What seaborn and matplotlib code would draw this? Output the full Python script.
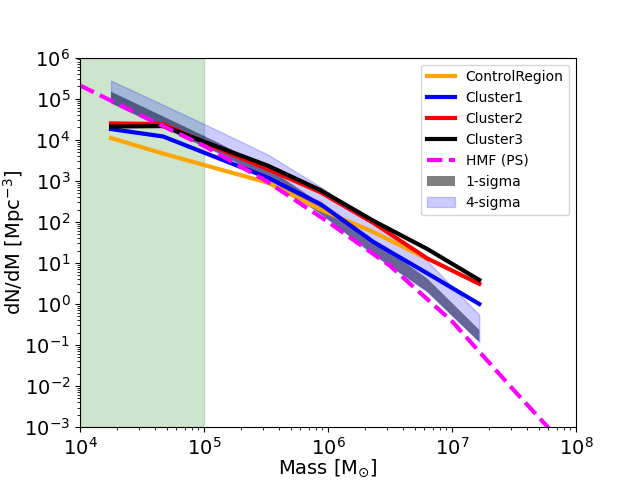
import numpy as np
import pandas as pd
import matplotlib
matplotlib.use("Agg")
import matplotlib.pyplot as plt
import seaborn as sns

# ---- data ----
mass = [1.78e4, 4.68e4, 1.26e5, 3.31e5, 8.71e5, 2.34e6, 6.31e6, 1.66e7]
control_region = [1.10e4, 4.6e3, 2.0e3, 890, 200, 56, 12.6]
cluster1 = [1.82e4, 1.20e4, 3.7e3, 1.17e3, 270, 32, 5.6, 1.0]
cluster2 = [2.5e4, 2.4e4, 6.3e3, 1.9e3, 525, 93, 12.9, 3.1]
cluster3 = [2.1e4, 2.15e4, 6.9e3, 2.3e3, 590, 105, 21.9, 3.85]
sigma1_upper = [1.48e5, 3.7e4, 8.9e3, 2.0e3, 282, 35, 4.2, 0.234]
sigma1_lower = [7.9e4, 2.0e4, 5.0e3, 1.12e3, 158, 15.8, 2.0, 0.12]
sigma4_upper = [2.75e5, 7.1e4, 1.74e4, 4.27e3, 708, 89, 11.2, 0.54]
hmf_mass = [1e4, 3.16e4, 1e5, 3.16e5, 1e6, 3.16e6, 1e7, 3.16e7, 1e8]
hmf_ps = [2.1e5, 3.8e4, 7.1e3, 1.0e3, 100, 8.5, 0.38, 7.9e-3, 1.8e-4]

fig, ax = plt.subplots(figsize=(6.4, 4.8), dpi=100)

ax.axvspan(1e4, 1e5, color="green", alpha=0.2)

ax.fill_between(mass, sigma1_lower, sigma1_upper, facecolor="black", alpha=0.5,
                linewidth=0, label="1-sigma")
ax.fill_between(mass, sigma1_lower, sigma4_upper, color="blue", alpha=0.2,
                label="4-sigma")

sns.lineplot(x=mass[:len(control_region)], y=control_region, color="orange",
             lw=3, label="ControlRegion", ax=ax)
sns.lineplot(x=mass, y=cluster1, color="blue", lw=3, label="Cluster1", ax=ax)
sns.lineplot(x=mass, y=cluster2, color="red", lw=3, label="Cluster2", ax=ax)
sns.lineplot(x=mass, y=cluster3, color="black", lw=3, label="Cluster3", ax=ax)
sns.lineplot(x=hmf_mass, y=hmf_ps, color="magenta", lw=3, linestyle="--",
             label="HMF (PS)", ax=ax)

ax.set_xscale("log")
ax.set_yscale("log")
ax.set_xlim(1e4, 1e8)
ax.set_ylim(1e-3, 1e6)
ax.set_xlabel(r"Mass [M$_{\odot}$]", fontsize=14, labelpad=-1)
ax.set_ylabel(r"dN/dM [Mpc$^{-3}$]", fontsize=14, labelpad=-2)
ax.tick_params(axis="both", which="major", labelsize=14)

handles, labels = ax.get_legend_handles_labels()
order = ["ControlRegion", "Cluster1", "Cluster2", "Cluster3", "HMF (PS)",
         "1-sigma", "4-sigma"]
hmap = dict(zip(labels, handles))
ax.legend([hmap[l] for l in order], order, loc="upper right", fontsize=10)

fig.savefig("out.png", dpi=100)
